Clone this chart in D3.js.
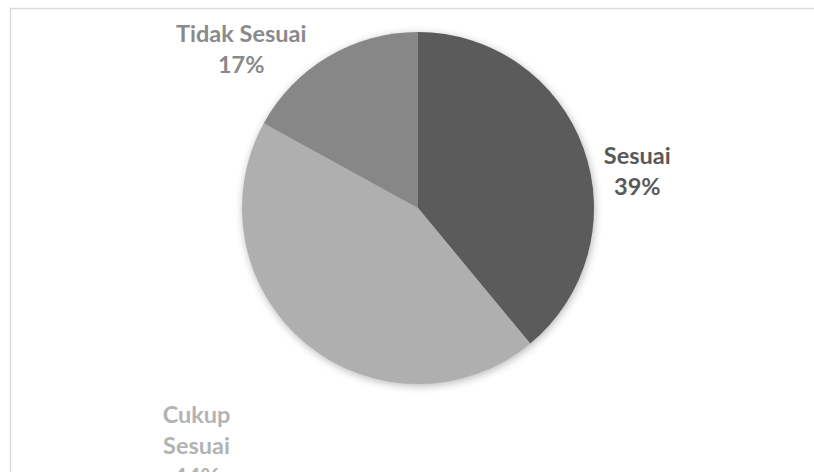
<html>
<head>
<script src="https://d3js.org/d3.v7.min.js"></script>
<style>
  body { margin: 0; background: #fff; }
  text { font-family: Lato, "Open Sans", sans-serif; font-weight: bold; }
</style>
</head>
<body>
<svg width="814" height="472"></svg>
<script>
// data
var categories = ["Sesuai", "Cukup Sesuai", "Tidak Sesuai"];
var values = [39, 44, 17];
var sliceColors = ["#5b5b5b", "#afafaf", "#878787"];
var labelColors = ["#595959", "#b3b3b3", "#8a8a8a"];
// label lines (wrapped as in the chart)
var labelLines = [["Sesuai", "39%"], ["Cukup", "Sesuai", "44%"], ["Tidak Sesuai", "17%"]];

var svg = d3.select("svg");
var cx = 418, cy = 208, radius = 176;

// chart border (runs off the right and bottom)
svg.append("rect")
  .attr("x", 10.5).attr("y", 8.5)
  .attr("width", 900).attr("height", 600)
  .attr("fill", "#fff")
  .attr("stroke", "#d9d9d9").attr("stroke-width", 1.5);

var defs = svg.append("defs");
var f = defs.append("filter").attr("id", "shadow")
  .attr("x", "-20%").attr("y", "-20%").attr("width", "140%").attr("height", "140%");
f.append("feGaussianBlur").attr("stdDeviation", 4);

var pie = d3.pie().sort(null).value(function(d) { return d; });
var arc = d3.arc().innerRadius(0).outerRadius(radius);
var arcs = pie(values);

var g = svg.append("g").attr("transform", "translate(" + cx + "," + cy + ")");

// soft shadow under the pie
g.append("circle").attr("r", radius).attr("cx", 1).attr("cy", 2)
  .attr("fill", "#000").attr("opacity", 0.28)
  .attr("filter", "url(#shadow)");

g.selectAll("path.slice")
  .data(arcs)
  .enter().append("path")
  .attr("class", "slice")
  .attr("d", arc)
  .attr("fill", function(d, i) { return sliceColors[i]; });

// label anchor points, placed outside the pie
var labelArc = d3.arc().innerRadius(radius * 1.27).outerRadius(radius * 1.27);
var labelOffsets = [[9, 39], [-79, 66], [-63, 34]];

arcs.forEach(function(d, i) {
  var c = labelArc.centroid(d);
  var lines = labelLines[i];
  var lineH = 31;
  var x = c[0] + labelOffsets[i][0];
  var y0 = c[1] + labelOffsets[i][1] - (lines.length - 1) * lineH / 2;
  var t = g.append("text")
    .attr("text-anchor", "middle")
    .attr("font-size", 23.5)
    .attr("fill", labelColors[i]);
  lines.forEach(function(s, k) {
    t.append("tspan").attr("x", x).attr("y", y0 + k * lineH).attr("dy", "0.35em").text(s);
  });
});
</script>
</body>
</html>
